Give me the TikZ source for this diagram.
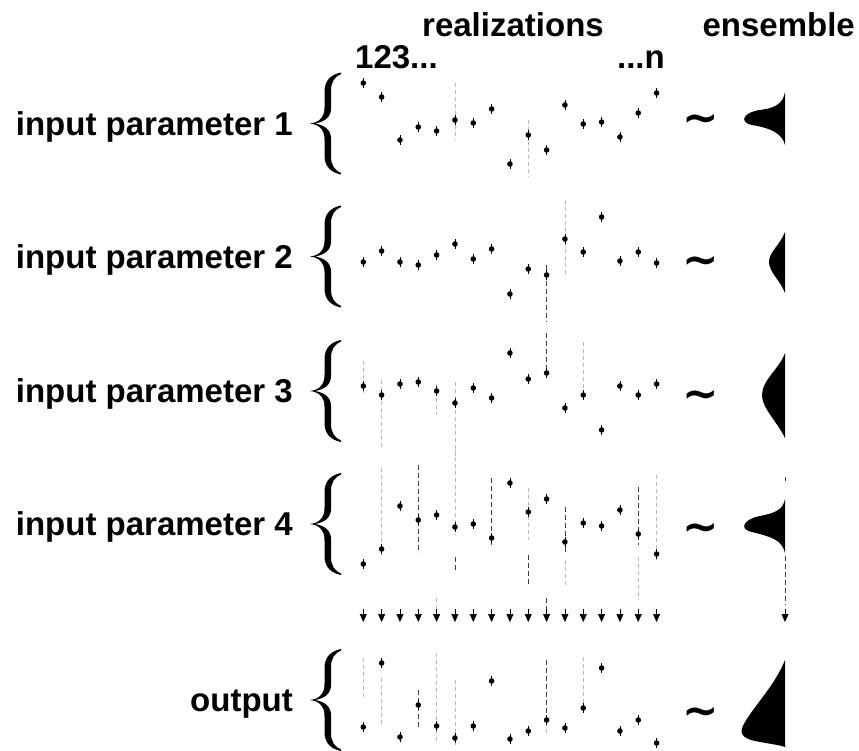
\documentclass[tikz,border=0pt]{standalone}
\usepackage{fontspec}
\setmainfont{Liberation Sans}
\newfontfamily\symfont{DejaVu Sans}
\usepackage{tikz}
\usetikzlibrary{arrows.meta}

\begin{document}
\begin{tikzpicture}[x=1pt,y=-1pt,
lbl/.style={font=\fontsize{33}{40}\selectfont\bfseries,inner sep=0},
approx/.style={font=\fontsize{30}{36}\selectfont\symfont\bfseries,inner sep=0,scale=1.45,yshift=-3pt},
dot/.style={circle,fill,inner sep=0,minimum size=5.6pt},
errbar/.style={line width=.8pt},
trace/.style={gray!55,line width=.8pt,dash pattern=on 4pt off 3pt},
darktrace/.style={black!75,line width=.7pt,dash pattern=on 5pt off 3pt},
flow/.style={line width=.6pt,-{Triangle[length=8pt,width=7pt]}},
ens/.style={fill=black},
curly/.pic={
  \fill (31,-51) .. controls (21,-49) and (14.5,-43) .. (14.5,-32)
    -- (14.5,-16) .. controls (14.5,-6) and (9,-1) .. (0,0)
    .. controls (9,1) and (14.5,6) .. (14.5,16)
    -- (14.5,32) .. controls (14.5,43) and (21,49) .. (31,51)
    -- (31,49.5) .. controls (25,47) and (21,42) .. (21,33)
    -- (21,15) .. controls (21,6) and (14,1.5) .. (5,0)
    .. controls (14,-1.5) and (21,-6) .. (21,-15)
    -- (21,-33) .. controls (21,-42) and (25,-47) .. (31,-49.5) -- cycle;
}]
\useasboundingbox (0,0) rectangle (859,750);

% headings
\node[lbl,anchor=base west] (real) at (422,36) {realizations};
\node[lbl,anchor=base east] (ensm) at (855,36) {ensemble};
\node[lbl,anchor=base west] (first) at (355,68) {123...};
\node[lbl,anchor=base east] (last) at (665,68) {...n};

% row labels and braces
\node[lbl,anchor=base east] (in1) at (293,135) {input parameter 1};
\node[lbl,anchor=base east] (in2) at (293,268) {input parameter 2};
\node[lbl,anchor=base east] (in3) at (293,402.5) {input parameter 3};
\node[lbl,anchor=base east] (in4) at (293,535.5) {input parameter 4};
\node[lbl,anchor=base east] (out) at (293,711.5) {output};
\foreach \yc in {123.5,256.5,391,524,700}
  \pic at (310,\yc) {curly};

% faint traces through the realizations
\foreach \c/\ya/\yb in {6/83/140, 10/120/177, 12/200/275, 13/342/397, 6/382/460,
    2/380/450, 1/361/395, 5/384/415, 6/450/535, 2/468/555, 10/488/540,
    12/560/585, 16/557/600, 17/475/560, 5/598/616, 2/678/727, 5/653/742,
    13/657/710, 11/715/735, 1/658/698, 6/680/745}
  \draw[trace] ({363.3+(\c-1)*18.33},\ya) -- ({363.3+(\c-1)*18.33},\yb);
\foreach \c/\ya/\yb in {11/265/322, 11/333/377, 4/465/553, 8/478/545, 10/555/585,
    12/507/555, 16/487/545, 6/557/570, 11/598/616, 4/690/727, 11/660/715}
  \draw[darktrace] ({363.3+(\c-1)*18.33},\ya) -- ({363.3+(\c-1)*18.33},\yb);

% realizations
\foreach \r/\ys in {
    1/{83,97,140,127,131,120,123,109,164,135,150,105,124,122,137,113,93},
    2/{262,251,262,265,255,244,259,249,294,269,275,239,252,217,261,252,263},
    3/{386,395,384,382,391,403,388,398,353,379,373,408,395,430,386,395,384},
    4/{564,549,506,520,515,527,524,538,483,512,499,542,523,526,510,534,554},
    o/{727,663,737,705,726,738,726,681,739,731,720,728,708,668,731,720,743}}
  \foreach \y [count=\c] in \ys {
    \node[dot] (d\r-\c) at ({363.3+(\c-1)*18.33},\y) {};
    \draw[errbar] (d\r-\c.center) ++(0,-5) -- ++(0,10);
  }

% propagation arrows
\foreach \c in {1,...,17} {
  \coordinate (a\c) at ({363.3+(\c-1)*18.33},622);
  \draw[flow] (a\c) ++(0,-13) -- (a\c);
}
\coordinate (ae) at (785,622);
\draw[darktrace] (785,477) -- (785,481);
\draw[darktrace] (785,556) -- (785,605);
\draw[flow] (ae) ++(0,-13) -- (ae);

% ensembles
\foreach \yt [count=\k] in {119,261,395,528,712}
  \node[approx] (t\k) at (701,\yt) {∼};
\fill[ens] (785,92) .. controls (783,104) and (775,108) .. (760,110)
  .. controls (744,112) and (738,122) .. (752,125)
  .. controls (770,128) and (782,133) .. (785,145) -- cycle;
\fill[ens] (785,232) .. controls (780,245) and (769,252) .. (769,262)
  .. controls (769,272) and (780,280) .. (785,293) -- cycle;
\fill[ens] (785,353) .. controls (780,368) and (762,380) .. (762,395)
  .. controls (762,408) and (776,420) .. (785,438) -- cycle;
\fill[ens] (785,499) .. controls (783,510) and (775,513) .. (760,516)
  .. controls (744,519) and (738,529) .. (752,532)
  .. controls (772,537) and (782,540) .. (785,553) -- cycle;
\fill[ens] (785,660) .. controls (775,685) and (755,705) .. (745,722)
  .. controls (738,733) and (742,738) .. (755,741)
  .. controls (770,744) and (780,745) .. (785,747) -- cycle;

\end{tikzpicture}
\end{document}
